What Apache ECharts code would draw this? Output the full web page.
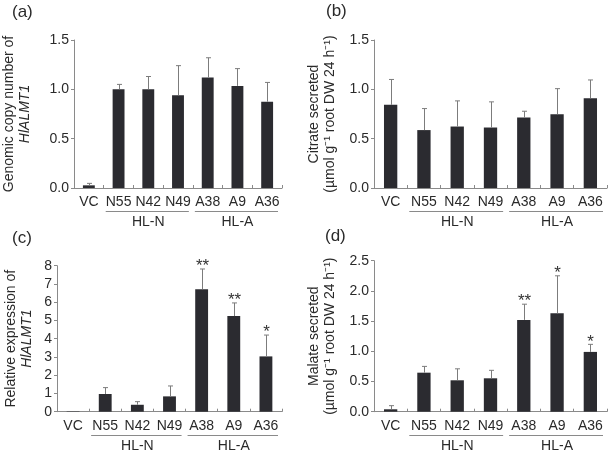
<!DOCTYPE html>
<html><head><meta charset="utf-8">
<script src="https://cdn.jsdelivr.net/npm/echarts@6/dist/echarts.min.js"></script>
<style>html,body{margin:0;padding:0;background:#fff}#c{width:611px;height:454px}</style>
</head><body><div id="c"></div>
<script>
// ---- data ----
const categories = ['VC', 'N55', 'N42', 'N49', 'A38', 'A9', 'A36'];
const groupNames = ['HL-N', 'HL-A'];
const groupStart = [1, 4];
const groupEnd = [3, 6];

const copyMean = [0.027, 1.0, 1.0, 0.94, 1.12, 1.035, 0.875];
const copySD = [0.02, 0.05, 0.13, 0.30, 0.20, 0.175, 0.195];

const citrateMean = [0.843, 0.587, 0.623, 0.613, 0.714, 0.748, 0.91];
const citrateSD = [0.257, 0.218, 0.26, 0.26, 0.064, 0.259, 0.185];

const exprMean = [0.02, 0.97, 0.38, 0.84, 6.71, 5.24, 3.03];
const exprSD = [0, 0.35, 0.17, 0.57, 1.11, 0.72, 1.17];
const exprStars = ['', '', '', '', '**', '**', '*'];

const malateMean = [0.04, 0.646, 0.52, 0.553, 1.52, 1.63, 0.99];
const malateSD = [0.06, 0.104, 0.19, 0.132, 0.26, 0.62, 0.125];
const malateStars = ['', '', '', '', '**', '*', '*'];

const noStars = ['', '', '', '', '', '', ''];

// ---- styling ----
const FONT = '"Liberation Sans", Arial, Helvetica, sans-serif';
const TXT = '#2a2a2a';
const AXIS = '#8a8a8a';
const BAR = '#2b2b30';
const ERR = '#7c7c7c';

const panels = [
  {label: '(a)', mean: copyMean, sd: copySD, stars: noStars, min: 0, max: 1.5, interval: 0.5, dec: 1,
   grid: {left: 57, top: 40, width: 225, height: 148}, title: {left: 12, top: 4},
   name: '{n|Genomic copy number of}\n{i|HlALMT1}', nameGap: 41},
  {label: '(b)', mean: citrateMean, sd: citrateSD, stars: noStars, min: 0, max: 1.5, interval: 0.5, dec: 1,
   grid: {left: 374, top: 40, width: 233, height: 148}, title: {left: 326, top: 3},
   name: '{n|Citrate secreted}\n{n|(µmol g⁻¹ root DW 24 h⁻¹)}', nameGap: 36},
  {label: '(c)', mean: exprMean, sd: exprSD, stars: exprStars, min: 0, max: 8, interval: 1, dec: 0,
   grid: {left: 57, top: 265.7, width: 225, height: 146}, title: {left: 12, top: 230},
   name: '{n|Relative expression of}\n{i|HlALMT1}', nameGap: 22},
  {label: '(d)', mean: malateMean, sd: malateSD, stars: malateStars, min: 0, max: 2.5, interval: 0.5, dec: 1,
   grid: {left: 374, top: 260.7, width: 233, height: 151}, title: {left: 325, top: 228},
   name: '{n|Malate secreted}\n{n|(µmol g⁻¹ root DW 24 h⁻¹)}', nameGap: 36}
];

const option = {
  animation: false,
  textStyle: {fontFamily: FONT},
  title: [], grid: [], xAxis: [], yAxis: [], series: []
};

panels.forEach((p, k) => {
  option.title.push({text: p.label, left: p.title.left, top: p.title.top, padding: 0,
    textStyle: {fontSize: 17, fontWeight: 'normal', color: TXT, fontFamily: FONT}});
  option.grid.push(Object.assign({containLabel: false}, p.grid));
  option.xAxis.push({
    type: 'category', gridIndex: k, data: categories, boundaryGap: true,
    axisLine: {show: true, lineStyle: {color: AXIS, width: 1}},
    axisTick: {show: true, inside: true, length: 3, interval: 0, alignWithLabel: false, lineStyle: {color: AXIS}},
    axisLabel: {interval: 0, color: TXT, fontSize: 14, margin: 7, fontFamily: FONT},
    splitLine: {show: false}
  });
  option.yAxis.push({
    type: 'value', gridIndex: k, min: p.min, max: p.max, interval: p.interval,
    axisLine: {show: true, lineStyle: {color: AXIS, width: 1}},
    axisTick: {show: true, length: 3, lineStyle: {color: AXIS}},
    axisLabel: {color: TXT, fontSize: 14, margin: 5, fontFamily: FONT,
      formatter: v => v.toFixed(p.dec)},
    splitLine: {show: false},
    name: p.name, nameLocation: 'middle', nameGap: p.nameGap, nameRotate: 90,
    nameTextStyle: {color: TXT, fontSize: 14, lineHeight: 16, fontFamily: FONT,
      rich: {n: {fontSize: 14, lineHeight: 16, color: TXT, fontFamily: FONT},
             i: {fontSize: 14, lineHeight: 16, color: TXT, fontStyle: 'italic', fontFamily: FONT}}}
  });
  option.series.push({
    type: 'bar', xAxisIndex: k, yAxisIndex: k, data: p.mean, barWidth: '40%',
    itemStyle: {color: BAR}, silent: true
  });
  const errData = p.mean.map((m, i) => [i, m, m + p.sd[i]]);
  option.series.push({
    type: 'custom', xAxisIndex: k, yAxisIndex: k, data: errData, clip: false, silent: true, z: 3,
    renderItem: (params, api) => {
      const i = params.dataIndex;
      const top = api.coord([api.value(0), api.value(1)]);
      const up = api.coord([api.value(0), api.value(2)]);
      const x = Math.round(top[0]) + 0.5;
      const ch = [];
      if (api.value(2) > api.value(1)) {
        ch.push({type: 'line', shape: {x1: x, y1: top[1], x2: x, y2: up[1]}, style: {stroke: ERR, lineWidth: 1}});
        ch.push({type: 'line', shape: {x1: x - 2.5, y1: up[1], x2: x + 2.5, y2: up[1]}, style: {stroke: ERR, lineWidth: 1}});
      }
      if (p.stars[i]) {
        ch.push({type: 'text', style: {text: p.stars[i], x: x, y: up[1] + 6, align: 'center', verticalAlign: 'bottom',
          fontSize: 17, fill: '#333', fontFamily: FONT}});
      }
      return {type: 'group', children: ch};
    }
  });
  const grpData = groupNames.map((g, j) => [groupStart[j], groupEnd[j]]);
  option.series.push({
    type: 'custom', xAxisIndex: k, yAxisIndex: k, data: grpData, clip: false, silent: true,
    renderItem: (params, api) => {
      const j = params.dataIndex;
      const a = api.coord([api.value(0), 0]);
      const b = api.coord([api.value(1), 0]);
      const bw = api.size([1, 0])[0];
      const x1 = a[0] - bw / 2 + 2, x2 = b[0] + bw / 2 - 4;
      const y = Math.round(a[1] + 23) + 0.5;
      return {type: 'group', children: [
        {type: 'line', shape: {x1: x1, y1: y, x2: x2, y2: y}, style: {stroke: AXIS, lineWidth: 1}},
        {type: 'text', style: {text: groupNames[j], x: (a[0] + b[0]) / 2, y: a[1] + 34, align: 'center',
          verticalAlign: 'middle', fontSize: 14, fill: TXT, fontFamily: FONT}}
      ]};
    }
  });
});

const chart = echarts.init(document.getElementById('c'), null, {renderer: 'canvas'});
chart.setOption(option);
</script>
</body></html>
